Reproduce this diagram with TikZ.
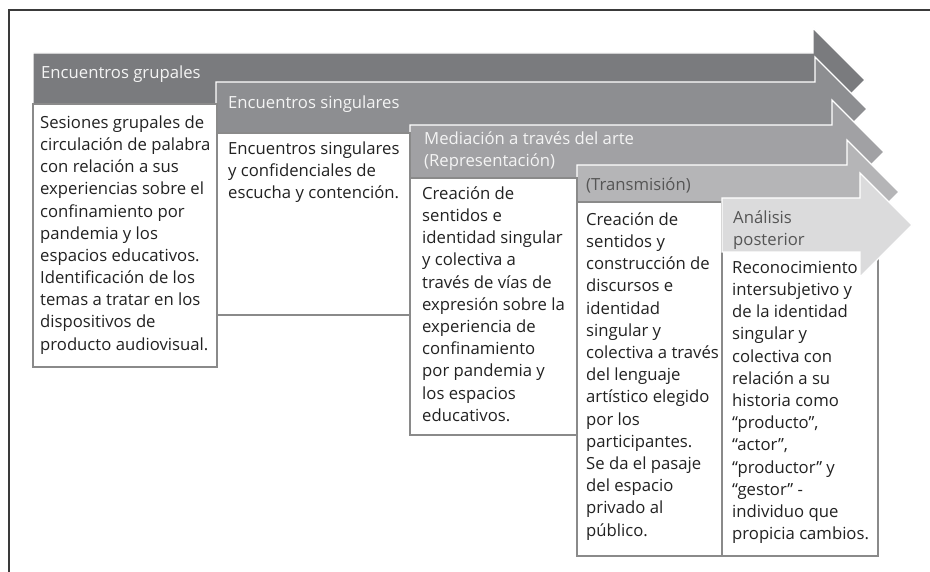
\documentclass[tikz,border=0pt]{standalone}
\usepackage{fontspec}
\setmainfont{Open Sans}
\definecolor{aone}{HTML}{7A7B7E}
\definecolor{atwo}{HTML}{8D8E91}
\definecolor{athree}{HTML}{A1A1A4}
\definecolor{afour}{HTML}{B5B5B7}
\definecolor{afive}{HTML}{DBDBDC}
\definecolor{boxline}{HTML}{8A8A8A}
\definecolor{txt}{HTML}{222222}
\definecolor{hlight}{HTML}{F4F4F4}
\definecolor{hdark}{HTML}{555555}
\definecolor{frameline}{HTML}{3A3A3A}
\newcommand\myfnt{\fontsize{16.7}{22.2}\selectfont}
\newcommand\fs{\rule{0pt}{16pt}}
\begin{document}
\begin{tikzpicture}[x=1pt,y=-1pt,
  arrowshape/.style={draw=white,line width=1.2pt,line join=miter},
  boxshape/.style={draw=boxline,fill=white,line width=1.1pt},
  bodytext/.style={anchor=north west,inner sep=0pt,align=left,font=\myfnt,text=txt},
  headlight/.style={bodytext,text=hlight},
  headdark/.style={bodytext,text=hdark}]
\useasboundingbox (0,0) rectangle (930,572);
% frame
\draw[frameline,line width=1.2pt] (9,572) -- (9,10) -- (930,10);
% arrows
\newcommand\arrowpath[5]{% x0, cy, headbase, fill
  \path[arrowshape,fill=#4] (#1,#2-27) -- (#3,#2-27) -- (#3,#2-52) -- (#3+52,#2)
    -- (#3,#2+52) -- (#3,#2+27) -- (#1,#2+27) -- cycle;}
\arrowpath{33}{80}{813}{aone}{}
\node[headlight] (h1) at (41,62) {\fs Encuentros grupales};
\arrowpath{216}{109}{815}{atwo}{}
\node[headlight] (h2) at (228,92) {\fs Encuentros singulares};
\arrowpath{410}{152}{832}{athree}{}
\node[headlight] (h3) at (424,128) {\fs Mediación a través del arte\\(Representación)};
\arrowpath{577}{192}{847}{afour}{}
\node[headdark] (h4) at (586,174) {\fs (Transmisión)};
% boxes
\path[boxshape] (33,104) rectangle (217,367);
\node[bodytext] (b1) at (40,112) {\fs Sesiones grupales de\\circulación de palabra\\con relación a sus\\experiencias sobre el\\confinamiento por\\pandemia y los\\espacios educativos.\\Identificación de los\\temas a tratar en los\\dispositivos de\\producto audiovisual.};
\path[boxshape] (217,133) rectangle (410,315);
\node[bodytext] (b2) at (228,138) {\fs Encuentros singulares\\y confidenciales de\\escucha y contención.};
\path[boxshape] (410,178) rectangle (577,435);
\node[bodytext] (b3) at (422,183) {\fs Creación de\\sentidos e\\identidad singular\\y colectiva a\\través de vías de\\expresión sobre la\\experiencia de\\confinamiento\\por pandemia y\\los espacios\\educativos.};
\path[boxshape] (577,202) rectangle (722,556);
\node[bodytext] (b4) at (586,209) {\fs Creación de\\sentidos y\\construcción de\\discursos e\\identidad\\singular y\\colectiva a través\\del lenguaje\\artístico elegido\\por los\\participantes.\\Se da el pasaje\\del espacio\\privado al\\público.};
\path[boxshape] (722,251) rectangle (878,556);
\node[bodytext] (b5) at (732,257) {\fs Reconocimiento\\intersubjetivo y\\de la identidad\\singular y\\colectiva con\\relación a su\\historia como\\“producto”,\\“actor”,\\“productor” y\\“gestor” -\\individuo que\\propicia cambios.};
% last arrow over box 5
\arrowpath{722}{225}{860}{afive}{}
\node[headdark] (h5) at (733,207) {\fs Análisis\\posterior};
\end{tikzpicture}
\end{document}
